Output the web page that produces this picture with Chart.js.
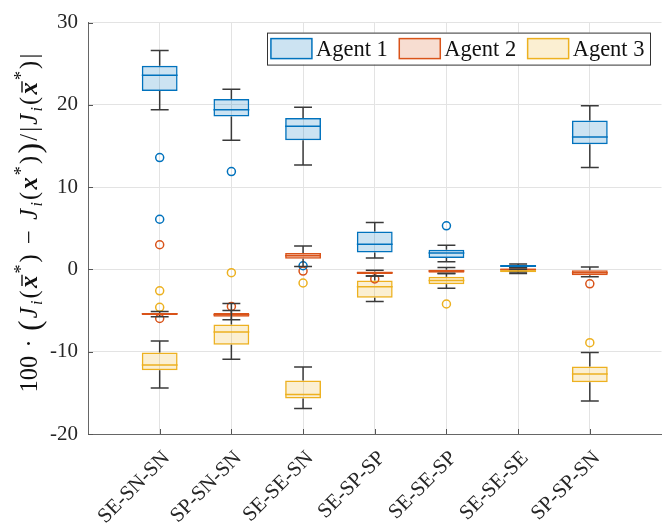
<!DOCTYPE html>
<html>
<head>
<meta charset="utf-8">
<script src="https://cdn.jsdelivr.net/npm/chart.js@4.4.1/dist/chart.umd.min.js"></script>
<style>
  html, body { margin: 0; padding: 0; background: #fff; }
</style>
</head>
<body>
<canvas id="myChart" width="667" height="529"></canvas>
<script>
const categories = ['SE-SN-SN', 'SP-SN-SN', 'SE-SE-SN', 'SE-SP-SP', 'SE-SE-SP', 'SE-SE-SE', 'SP-SP-SN'];
const agentNames = ['Agent 1', 'Agent 2', 'Agent 3'];

// box statistics per agent: lower whisker, q1, median, q3, upper whisker
const a1Low  = [19.4, 15.7, 12.7, 1.4, 0.93, 0.2, 12.4];
const a1Q1   = [21.7, 18.6, 15.7, 2.05, 1.4, 0.3, 15.2];
const a1Med  = [23.6, 19.4, 17.4, 3.05, 2.0, 0.42, 16.1];
const a1Q3   = [24.75, 20.7, 18.4, 4.6, 2.4, 0.55, 18.1];
const a1High = [26.6, 21.9, 19.7, 5.7, 2.95, 0.65, 19.9];
const a1Out  = [[13.6, 6.1], [11.9], [0.45], [], [5.3], [], []];

const a2Low  = [-5.75, -6.1, 0.35, -0.8, -0.5, -0.3, -0.9];
const a2Q1   = [-5.55, -5.75, 1.3, -0.55, -0.4, -0.1, -0.7];
const a2Med  = [-5.4, -5.5, 1.65, -0.4, -0.2, 0.0, -0.4];
const a2Q3   = [-5.3, -5.3, 2.0, -0.25, -0.05, 0.1, -0.1];
const a2High = [-5.1, -5.0, 2.85, -0.1, 0.25, 0.2, 0.3];
const a2Out  = [[3.0, -5.95], [-4.5], [-0.2], [-1.15], [], [], [-1.75]];

const a3Low  = [-14.4, -10.9, -16.9, -3.9, -2.3, -0.5, -16.0];
const a3Q1   = [-12.25, -9.15, -15.7, -3.45, -1.8, -0.35, -13.7];
const a3Med  = [-11.6, -7.6, -15.2, -2.1, -1.35, -0.2, -12.7];
const a3Q3   = [-10.1, -6.7, -13.5, -1.35, -0.9, -0.1, -11.8];
const a3High = [-8.7, -4.15, -11.85, -0.8, -0.5, 0.0, -10.1];
const a3Out  = [[-2.6, -4.6], [-0.4], [-1.65], [], [-4.2], [], [-8.9]];

const yTicks = [-20, -10, 0, 10, 20, 30];

const lineColors = ['#0072BD', '#D95319', '#EDB120'];
const fillColors = ['rgba(0,114,189,0.2)', 'rgba(217,83,25,0.2)', 'rgba(237,177,32,0.2)'];
const serif = '"Liberation Serif", "Times New Roman", serif';

const stats = [
  { low: a1Low, q1: a1Q1, med: a1Med, q3: a1Q3, high: a1High, out: a1Out },
  { low: a2Low, q1: a2Q1, med: a2Med, q3: a2Q3, high: a2High, out: a2Out },
  { low: a3Low, q1: a3Q1, med: a3Med, q3: a3Q3, high: a3High, out: a3Out }
];

// blank slots at both ends give the 0..8 x range
const labels = [''].concat(categories, ['']);

const boxSets = stats.map((s, k) => ({
  type: 'bar',
  label: agentNames[k],
  data: [null].concat(categories.map((c, i) => [s.q1[i], s.q3[i]]), [null]),
  backgroundColor: fillColors[k],
  borderColor: lineColors[k],
  borderWidth: 1.5,
  borderSkipped: false,
  grouped: false,
  categoryPercentage: 1,
  barPercentage: 0.5,
  order: 3 - k
}));

const outlierSets = stats.map((s, k) => {
  const pts = [];
  categories.forEach((c, i) => s.out[i].forEach(v => pts.push({ x: c, y: v })));
  return {
    type: 'line',
    label: agentNames[k] + ' outliers',
    data: pts,
    showLine: false,
    pointRadius: 4,
    pointHoverRadius: 4,
    pointBorderWidth: 1.5,
    pointBorderColor: lineColors[k],
    pointBackgroundColor: 'rgba(0,0,0,0)',
    order: 0
  };
});

// whiskers, medians and inward ticks
const boxExtras = {
  id: 'boxExtras',
  afterDatasetsDraw(chart) {
    const ctx = chart.ctx;
    const y = chart.scales.y;
    ctx.save();
    stats.forEach((s, k) => {
      const meta = chart.getDatasetMeta(k);
      categories.forEach((c, i) => {
        const el = meta.data[i + 1];
        if (!el) return;
        const x = el.x, w = el.width;
        ctx.strokeStyle = '#3a3a3a';
        ctx.lineWidth = 1.5;
        ctx.beginPath();
        ctx.moveTo(x, y.getPixelForValue(s.q3[i]));
        ctx.lineTo(x, y.getPixelForValue(s.high[i]));
        ctx.moveTo(x - w / 4, y.getPixelForValue(s.high[i]));
        ctx.lineTo(x + w / 4, y.getPixelForValue(s.high[i]));
        ctx.moveTo(x, y.getPixelForValue(s.q1[i]));
        ctx.lineTo(x, y.getPixelForValue(s.low[i]));
        ctx.moveTo(x - w / 4, y.getPixelForValue(s.low[i]));
        ctx.lineTo(x + w / 4, y.getPixelForValue(s.low[i]));
        ctx.stroke();
        ctx.strokeStyle = lineColors[k];
        ctx.beginPath();
        ctx.moveTo(x - w / 2, y.getPixelForValue(s.med[i]));
        ctx.lineTo(x + w / 2, y.getPixelForValue(s.med[i]));
        ctx.stroke();
      });
    });
    ctx.restore();
  },
  afterDraw(chart) {
    const ctx = chart.ctx;
    const xs = chart.scales.x, ys = chart.scales.y, a = chart.chartArea;
    ctx.save();
    ctx.strokeStyle = '#555';
    ctx.lineWidth = 1;
    ctx.beginPath();
    categories.forEach((c, i) => {
      const px = Math.round(xs.getPixelForValue(i + 1)) + 0.5;
      ctx.moveTo(px, a.bottom);
      ctx.lineTo(px, a.bottom - 5);
    });
    yTicks.forEach(v => {
      const py = Math.round(ys.getPixelForValue(v)) + 0.5;
      ctx.moveTo(a.left, py);
      ctx.lineTo(a.left + 5, py);
    });
    ctx.stroke();
    ctx.restore();
  }
};

// legend box in the upper right corner
const boxLegend = {
  id: 'boxLegend',
  afterDraw(chart) {
    const ctx = chart.ctx, a = chart.chartArea;
    ctx.save();
    ctx.font = '22.5px ' + serif;
    const sw = 41, sh = 20, gap = 4, sep = 11.5, padL = 4, padR = 5;
    const widths = agentNames.map(n => ctx.measureText(n).width);
    let total = padL + padR + sep * (agentNames.length - 1);
    widths.forEach(w => { total += sw + gap + w; });
    const right = a.right - 12, top = a.top + 10, h = 32;
    const left = right - total;
    ctx.fillStyle = '#fff';
    ctx.fillRect(left, top, total, h);
    ctx.strokeStyle = '#333';
    ctx.lineWidth = 1;
    ctx.strokeRect(Math.round(left) + 0.5, top + 0.5, Math.round(total), h);
    let x = left + padL;
    agentNames.forEach((n, k) => {
      ctx.fillStyle = fillColors[k];
      ctx.fillRect(x, top + 6, sw, sh);
      ctx.strokeStyle = lineColors[k];
      ctx.lineWidth = 1.5;
      ctx.strokeRect(x, top + 6, sw, sh);
      x += sw + gap;
      ctx.fillStyle = '#111';
      ctx.textBaseline = 'middle';
      ctx.fillText(n, x, top + h / 2 + 1);
      x += widths[k] + sep;
    });
    ctx.restore();
  }
};

// rotated y-axis title with italic / bold / sub / sup runs
const yTitle = {
  id: 'yTitle',
  afterDraw(chart) {
    const ctx = chart.ctx;
    const fs = 24.5;
    const F = {
      n: fs + 'px ' + serif,
      big: Math.round(fs * 1.3) + 'px ' + serif,
      i: 'italic ' + fs + 'px ' + serif,
      b: 'italic bold ' + fs + 'px ' + serif,
      sub: 'italic ' + Math.round(fs * 0.66) + 'px ' + serif,
      sup: Math.round(fs * 0.72) + 'px ' + serif
    };
    const J = (bar) => [['J', 'i'], ['i', 'sub'], ['(', 'n'], ['x', 'b', bar], ['*', 'sup'], [')', 'n']];
    const runs = [['100', 'n'], ['\u2005\u00b7\u2005', 'n'], ['(', 'big']]
      .concat(J(true), [['\u2004\u2212\u2004', 'n']], J(false), [[')', 'big'], ['/', 'n'], ['|', 'n']], J(true), [['|', 'n']]);
    const kern = 2.2;
    ctx.save();
    let total = 0;
    runs.forEach(r => { ctx.font = F[r[1]]; total += ctx.measureText(r[0]).width + kern; });
    ctx.translate(37, 222);
    ctx.rotate(-Math.PI / 2);
    ctx.fillStyle = '#111';
    ctx.textBaseline = 'alphabetic';
    let x = -total / 2;
    runs.forEach(r => {
      ctx.font = F[r[1]];
      const w = ctx.measureText(r[0]).width;
      let dy = 0;
      if (r[1] === 'sub') dy = 5;
      if (r[1] === 'sup') dy = -10;
      if (r[1] === 'big') dy = 3;
      ctx.fillText(r[0], x, dy);
      if (r[2]) {
        ctx.strokeStyle = '#111';
        ctx.lineWidth = 1.4;
        ctx.beginPath();
        ctx.moveTo(x + 2, -15);
        ctx.lineTo(x + w + 1, -15);
        ctx.stroke();
      }
      x += w + kern;
    });
    ctx.restore();
  }
};

new Chart(document.getElementById('myChart'), {
  type: 'bar',
  data: { labels: labels, datasets: boxSets.concat(outlierSets) },
  options: {
    responsive: false,
    animation: false,
    layout: { padding: { top: 21, right: 2, left: 0, bottom: 0 } },
    plugins: { legend: { display: false }, tooltip: { enabled: false } },
    scales: {
      x: {
        type: 'category',
        offset: false,
        afterFit: s => { s.height = 95; s.paddingLeft = 0; s.paddingRight = 0; },
        grid: {
          offset: false,
          color: c => (c.index === 0 || c.index === labels.length - 1) ? 'rgba(0,0,0,0)' : '#e3e3e3',
          drawTicks: false
        },
        border: { display: true, color: '#666', width: 1 },
        ticks: {
          autoSkip: false,
          minRotation: 45,
          maxRotation: 45,
          padding: 12,
          labelOffset: 7,
          color: '#262626',
          font: { family: serif, size: 21 }
        }
      },
      y: {
        min: -20,
        max: 30,
        afterFit: s => { s.width = 88; },
        afterBuildTicks: s => { s.ticks = yTicks.map(v => ({ value: v })); },
        grid: { color: '#e3e3e3', drawTicks: false },
        border: { display: true, color: '#666', width: 1 },
        ticks: {
          padding: 10,
          color: '#262626',
          font: { family: serif, size: 21 }
        }
      }
    }
  },
  plugins: [boxExtras, boxLegend, yTitle]
});
</script>
</body>
</html>
